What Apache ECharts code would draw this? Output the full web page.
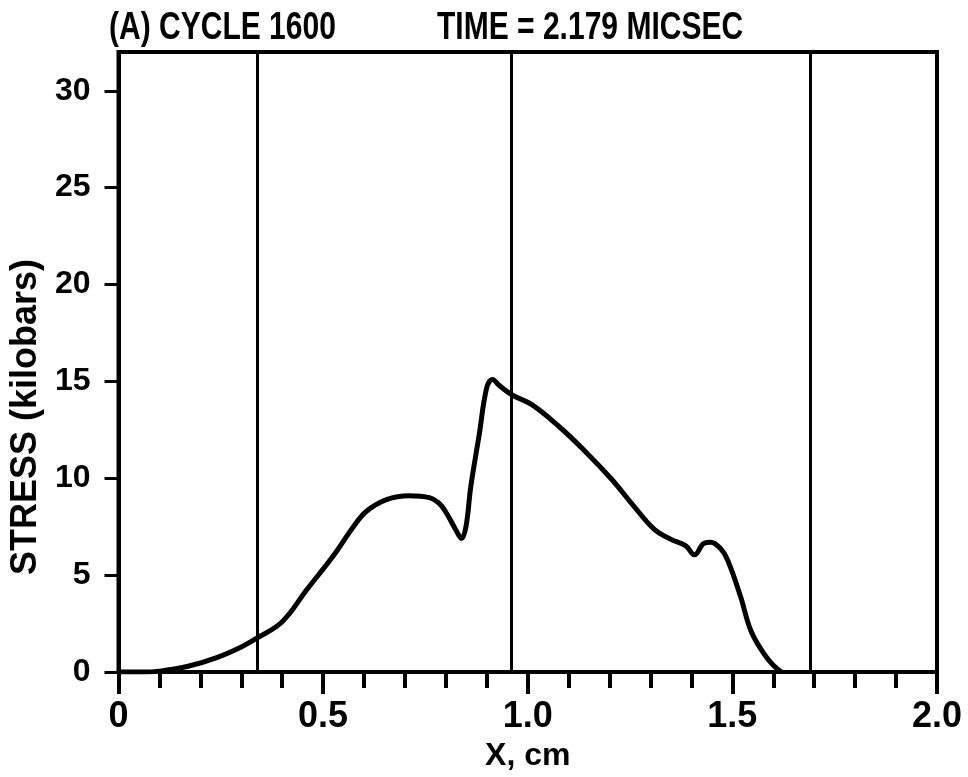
<!DOCTYPE html>
<html>
<head>
<meta charset="utf-8">
<title>Stress profile, cycle 1600</title>
<script src="https://cdn.jsdelivr.net/npm/echarts@6/dist/echarts.min.js"></script>
<style>
  html, body { margin: 0; padding: 0; background: #fff; }
  #chart { width: 968px; height: 777px; }
</style>
</head>
<body>
<div id="chart"></div>
<script>
// stress curve (x in cm, stress in kilobars)
var xPos = [0, 0.06, 0.10, 0.17, 0.24, 0.30, 0.338, 0.40, 0.46, 0.525, 0.574, 0.606, 0.655, 0.71, 0.76, 0.783, 0.80, 0.824, 0.838, 0.849, 0.861, 0.881, 0.90, 0.914, 0.93, 0.962, 1.01, 1.075, 1.14, 1.205, 1.254, 1.31, 1.35, 1.387, 1.407, 1.431, 1.447, 1.47, 1.488, 1.52, 1.545, 1.577, 1.60, 1.62]
var stress = [0, 0, 0.05, 0.3, 0.75, 1.3, 1.75, 2.6, 4.25, 6.0, 7.5, 8.3, 8.9, 9.1, 9.0, 8.72, 8.25, 7.35, 6.9, 7.5, 9.6, 12.2, 14.7, 15.1, 14.8, 14.3, 13.8, 12.7, 11.4, 9.95, 8.7, 7.35, 6.85, 6.5, 6.05, 6.65, 6.7, 6.4, 5.8, 3.9, 2.15, 0.95, 0.35, 0]
// material interfaces (vertical lines)
var interfaces = [0.338, 0.96, 1.685]
var xTickLabels = ['0', '0.5', '1.0', '1.5', '2.0']
var yTicks = [0, 5, 10, 15, 20, 25, 30]
var titleParts = ['(A) CYCLE 1600', 'TIME = 2.179 MICSEC']

var sans = "'Liberation Sans', Arial, sans-serif"

var chart = echarts.init(document.getElementById('chart'))

var points = xPos.map(function (x, i) { return [x, stress[i]] })

// squeezed lettering for the header line
function headText(str, x) {
  return {
    type: 'text',
    x: x,
    y: 10,
    scaleX: 0.79,
    style: {
      text: str,
      font: 'bold 38px ' + sans,
      fill: '#000',
      textVerticalAlign: 'top'
    }
  }
}

chart.setOption({
  animation: false,
  backgroundColor: '#fff',
  graphic: [headText(titleParts[0], 109), headText(titleParts[1], 437)],
  grid: {
    left: 116,
    right: 31,
    top: 52,
    bottom: 104,
    show: true,
    borderColor: '#000',
    borderWidth: 4,
    backgroundColor: 'transparent'
  },
  xAxis: {
    type: 'value',
    min: 0,
    max: 2,
    interval: 0.5,
    name: 'X, cm',
    nameLocation: 'middle',
    nameGap: 57,
    nameTextStyle: { fontFamily: sans, fontWeight: 'bold', fontSize: 32, color: '#000' },
    axisLine: { lineStyle: { color: '#000', width: 4 } },
    axisTick: { show: true, inside: false, length: 22, lineStyle: { color: '#000', width: 4 } },
    minorTick: { show: true, splitNumber: 5, length: 16, lineStyle: { color: '#000', width: 4 } },
    splitLine: { show: false },
    axisLabel: {
      margin: 27,
      fontFamily: sans,
      fontWeight: 'bold',
      fontSize: 36,
      color: '#000',
      formatter: function (v) { return xTickLabels[Math.round(v / 0.5)] }
    }
  },
  yAxis: {
    type: 'value',
    min: 0,
    max: 32,
    interval: 5,
    name: 'STRESS (kilobars)',
    nameLocation: 'middle',
    nameRotate: 90,
    nameGap: 72,
    nameTextStyle: { fontFamily: sans, fontWeight: 'bold', fontSize: 36, color: '#000', padding: [0, 110, 0, 0] },
    axisLine: { lineStyle: { color: '#000', width: 4 } },
    axisTick: { show: true, inside: false, length: 14, customValues: yTicks, lineStyle: { color: '#000', width: 3 } },
    splitLine: { show: false },
    axisLabel: {
      margin: 28,
      customValues: yTicks,
      fontFamily: sans,
      fontWeight: 'bold',
      fontSize: 32,
      color: '#000'
    }
  },
  series: [{
    type: 'line',
    data: points,
    smooth: 0.4,
    symbol: 'none',
    lineStyle: { color: '#000', width: 5 },
    markLine: {
      silent: true,
      symbol: 'none',
      label: { show: false },
      lineStyle: { color: '#000', width: 3, type: 'solid' },
      data: interfaces.map(function (x) { return { xAxis: x } })
    }
  }]
})
</script>
</body>
</html>
